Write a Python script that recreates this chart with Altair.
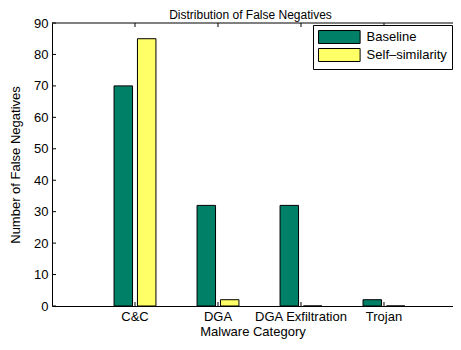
import altair as alt
import pandas as pd

title_text = "Distribution of False Negatives"
categories = ["C&C", "DGA", "DGA Exfiltration", "Trojan"]
series_names = ["Baseline", "Self\u2013similarity"]
baseline = [70, 32, 32, 2]
self_similarity = [85, 2, 0, 0]
y_ticks = [0, 10, 20, 30, 40, 50, 60, 70, 80, 90]
colors = ["#008066", "#FFFF66"]

rows = []
for c, b, s in zip(categories, baseline, self_similarity):
    rows.append({"category": c, "series": series_names[0], "value": b})
    rows.append({"category": c, "series": series_names[1], "value": s})
df = pd.DataFrame(rows)
cat_df = pd.DataFrame({"category": categories})
ytick_df = pd.DataFrame({"value": y_ticks})
title_df = pd.DataFrame({"t": [title_text]})

W, H = 401, 283
FONT = "Liberation Sans"

xscale = alt.Scale(type="band", domain=categories, paddingInner=0,
                   paddingOuter=0.4157, align=0.6014)
yscale = alt.Scale(domain=[0, 90], nice=False, zero=True)

xaxis = alt.Axis(title="Malware Category", labelAngle=0, ticks=False,
                 labelPadding=4, titlePadding=2, domainColor="black",
                 labelColor="black", titleColor="black", labelOverlap=False,
                 labelFontSize=13, titleFontSize=13, titleFontWeight="normal",
                 labelFont=FONT, titleFont=FONT)
yaxis = alt.Axis(title="Number of False Negatives", values=y_ticks, ticks=False,
                 grid=False, labelPadding=4, titlePadding=11, domainColor="black",
                 labelColor="black", titleColor="black", labelOverlap=False,
                 labelFontSize=13, titleFontSize=13, titleFontWeight="normal",
                 labelFont=FONT, titleFont=FONT)

bars = alt.Chart(df).mark_bar(stroke="black", strokeWidth=1).encode(
    x=alt.X("category:N", scale=xscale, sort=categories, axis=xaxis),
    xOffset=alt.XOffset("series:N", sort=series_names,
                        scale=alt.Scale(paddingInner=0.21, paddingOuter=0.878)),
    y=alt.Y("value:Q", scale=yscale, axis=yaxis),
    fill=alt.Fill("series:N", sort=series_names,
                  scale=alt.Scale(domain=series_names, range=colors),
                  legend=alt.Legend(title=None, orient="none", legendX=261, legendY=2,
                                    direction="vertical", fillColor="white",
                                    strokeColor="black", padding=5,
                                    symbolType="M-1,-1H5.4V1H-1Z", symbolSize=169,
                                    symbolStrokeColor="black", symbolStrokeWidth=1,
                                    symbolOpacity=1,
                                    labelFontSize=13, labelFont=FONT, labelColor="black",
                                    labelOffset=34.6, rowPadding=0)),
)

xt_bottom = alt.Chart(cat_df).mark_rule(color="black", strokeWidth=1).encode(
    x=alt.X("category:N", scale=xscale, sort=categories, axis=xaxis),
    y=alt.value(H), y2=alt.value(H - 4),
)
xt_top = alt.Chart(cat_df).mark_rule(color="black", strokeWidth=1).encode(
    x=alt.X("category:N", scale=xscale, sort=categories, axis=xaxis),
    y=alt.value(0), y2=alt.value(4),
)
yt_left = alt.Chart(ytick_df).mark_rule(color="black", strokeWidth=1).encode(
    y=alt.Y("value:Q", scale=yscale, axis=yaxis),
    x=alt.value(0), x2=alt.value(4),
)
top_border = alt.Chart(cat_df.head(1)).mark_rule(color="black", strokeWidth=1).encode(
    x=alt.value(0), x2=alt.value(W), y=alt.value(0),
)
title_mark = alt.Chart(title_df).mark_text(
    font=FONT, fontSize=12, color="black", align="center", baseline="alphabetic"
).encode(x=alt.value(W / 2 - 2), y=alt.value(-4), text="t:N")

chart = alt.layer(bars, xt_bottom, xt_top, yt_left, top_border, title_mark).properties(
    width=W, height=H,
    autosize=alt.AutoSizeParams(type="none"),
    padding={"left": 44, "top": 15, "right": 0, "bottom": 36},
).configure_view(strokeWidth=0).configure_axis(domainWidth=1)

chart.save("out.html", embed_options={"renderer": "svg", "actions": False})
